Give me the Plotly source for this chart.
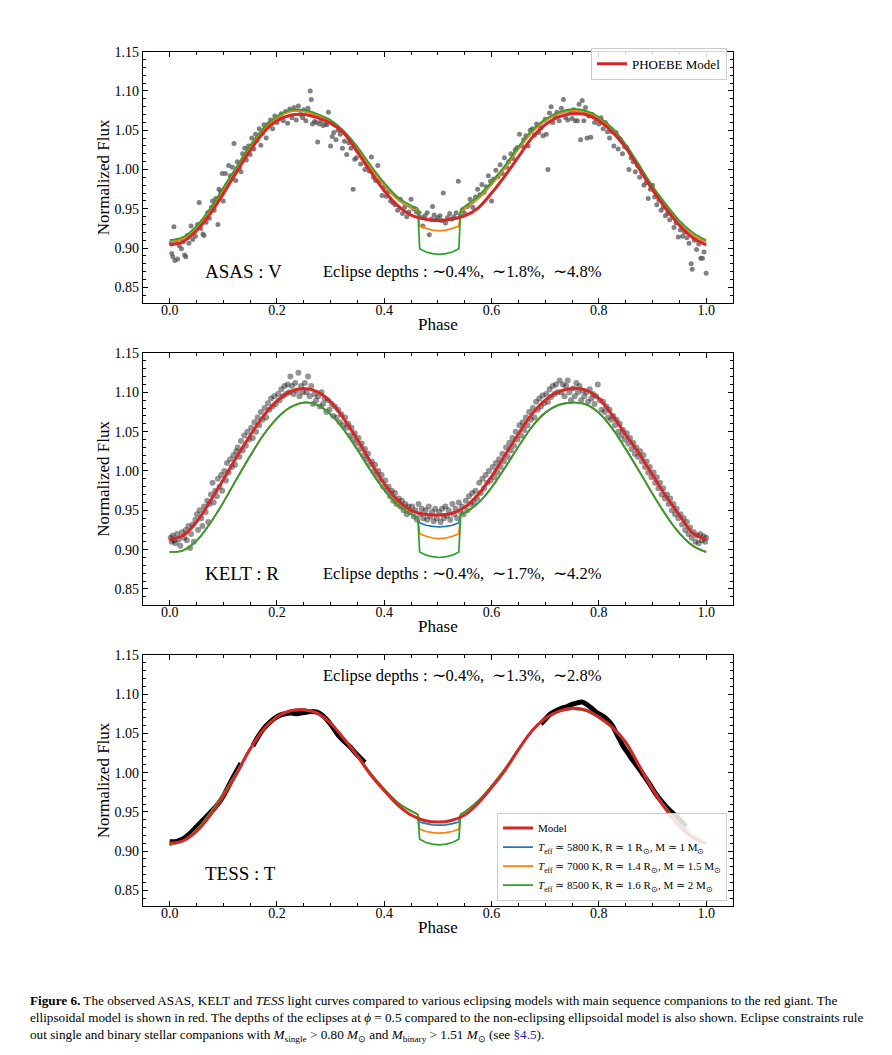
import plotly.graph_objects as go

FONT = "Liberation Serif"
RED, BLUE, ORANGE, GREEN = "#d62728", "#1f77b4", "#ff7f0e", "#2ca02c"

# ---------------- model grids ----------------
grid = [0.0, 0.025, 0.05, 0.075, 0.1, 0.125, 0.15, 0.175, 0.2, 0.225, 0.25, 0.275, 0.3, 0.325,
        0.35, 0.375, 0.4, 0.425, 0.45, 0.475, 0.5, 0.525, 0.55, 0.575, 0.6, 0.625, 0.65, 0.675,
        0.7, 0.725, 0.75, 0.775, 0.8, 0.825, 0.85, 0.875, 0.9, 0.925, 0.95, 0.975, 1.0]

base_phase = [0.0, 0.025, 0.05, 0.075, 0.1, 0.125, 0.15, 0.175, 0.2, 0.225, 0.25, 0.275, 0.3, 0.325,
              0.35, 0.375, 0.4, 0.425, 0.45, 0.4625, 0.5425, 0.55, 0.575, 0.6, 0.625, 0.65, 0.675,
              0.7, 0.725, 0.75, 0.775, 0.8, 0.825, 0.85, 0.875, 0.9, 0.925, 0.95, 0.975, 1.0]

ecl_phase = [0.4625, 0.466, 0.478, 0.49, 0.5025, 0.515, 0.527, 0.539, 0.5425]

# ASAS (V)
asas_red = [0.904, 0.908, 0.922, 0.943, 0.969, 0.997, 1.024, 1.047, 1.062, 1.069, 1.070, 1.066, 1.059,
            1.046, 1.022, 0.997, 0.973, 0.954, 0.942, 0.937, 0.935, 0.937, 0.941, 0.951, 0.970, 0.992,
            1.016, 1.040, 1.057, 1.067, 1.071, 1.070, 1.062, 1.048, 1.028, 1.001, 0.974, 0.950, 0.929,
            0.913, 0.904]
asas_base_green = [0.910, 0.914, 0.928, 0.950, 0.977, 1.004, 1.031, 1.053, 1.068, 1.076, 1.076, 1.071, 1.063,
                   1.049, 1.029, 1.005, 0.983, 0.965, 0.954, 0.951, 0.950, 0.953, 0.966, 0.984, 1.005, 1.029,
                   1.050, 1.064, 1.073, 1.077, 1.075, 1.067, 1.053, 1.032, 1.006, 0.979, 0.956, 0.935, 0.920,
                   0.910]
asas_base_other = [0.908, 0.912, 0.925, 0.947, 0.974, 1.001, 1.028, 1.051, 1.066, 1.074, 1.074, 1.069, 1.061,
                   1.047, 1.027, 1.002, 0.980, 0.962, 0.951, 0.948, 0.947, 0.950, 0.963, 0.981, 1.002, 1.026,
                   1.047, 1.062, 1.071, 1.075, 1.073, 1.065, 1.051, 1.030, 1.003, 0.977, 0.953, 0.932, 0.917,
                   0.908]
asas_ecl_blue = [0.948, 0.938, 0.936, 0.9345, 0.934, 0.9345, 0.936, 0.938, 0.947]
asas_ecl_orange = [0.948, 0.928, 0.925, 0.9228, 0.922, 0.9228, 0.925, 0.928, 0.947]
asas_ecl_green = [0.951, 0.899, 0.895, 0.893, 0.892, 0.893, 0.895, 0.899, 0.950]

# KELT (R)
kelt_red = [0.913, 0.918, 0.935, 0.961, 0.989, 1.018, 1.045, 1.070, 1.089, 1.101, 1.105, 1.101, 1.088,
            1.066, 1.040, 1.011, 0.984, 0.963, 0.950, 0.945, 0.944, 0.946, 0.954, 0.970, 0.993, 1.020,
            1.047, 1.072, 1.090, 1.101, 1.105, 1.103, 1.092, 1.071, 1.046, 1.022, 0.995, 0.968, 0.944,
            0.921, 0.913]
kelt_base = [0.897, 0.899, 0.911, 0.933, 0.960, 0.990, 1.019, 1.046, 1.067, 1.081, 1.087, 1.084, 1.072,
             1.052, 1.027, 1.000, 0.976, 0.957, 0.945, 0.941, 0.945, 0.947, 0.959, 0.979, 1.004, 1.031,
             1.056, 1.074, 1.084, 1.087, 1.085, 1.074, 1.054, 1.028, 1.000, 0.971, 0.944, 0.921, 0.905,
             0.897]
kelt_ecl_blue = [0.941, 0.934, 0.931, 0.9295, 0.929, 0.9295, 0.931, 0.934, 0.945]
kelt_ecl_orange = [0.941, 0.920, 0.917, 0.9148, 0.914, 0.9148, 0.917, 0.920, 0.945]
kelt_ecl_green = [0.941, 0.897, 0.893, 0.891, 0.890, 0.891, 0.893, 0.897, 0.945]

# TESS (T)
tess_red = [0.910, 0.913, 0.925, 0.945, 0.970, 0.999, 1.030, 1.055, 1.071, 1.079, 1.080, 1.076, 1.063,
            1.043, 1.021, 0.997, 0.977, 0.959, 0.946, 0.939, 0.937, 0.939, 0.946, 0.961, 0.981, 1.003,
            1.029, 1.053, 1.069, 1.078, 1.082, 1.080, 1.071, 1.058, 1.039, 1.009, 0.979, 0.953, 0.932,
            0.917, 0.910]
tess_base = [0.908, 0.913, 0.927, 0.948, 0.973, 1.001, 1.031, 1.055, 1.071, 1.079, 1.081, 1.076, 1.063,
             1.044, 1.022, 0.999, 0.979, 0.962, 0.951, 0.947, 0.947, 0.950, 0.964, 0.983, 1.005, 1.030,
             1.053, 1.069, 1.078, 1.081, 1.079, 1.070, 1.057, 1.038, 1.009, 0.980, 0.955, 0.935, 0.919,
             0.910]
tess_ecl_blue = [0.947, 0.937, 0.935, 0.9335, 0.933, 0.9335, 0.935, 0.937, 0.947]
tess_ecl_orange = [0.947, 0.928, 0.925, 0.9235, 0.923, 0.9235, 0.925, 0.928, 0.947]
tess_ecl_green = [0.947, 0.915, 0.911, 0.9088, 0.908, 0.9088, 0.911, 0.915, 0.947]

# ---------------- observations ----------------
asas_obs = [
    (0.003, 0.906), (0.004, 0.893), (0.006, 0.889), (0.008, 0.927), (0.010, 0.884), (0.012, 0.909),
    (0.015, 0.886), (0.018, 0.903), (0.022, 0.899), (0.025, 0.908), (0.028, 0.891), (0.030, 0.889),
    (0.033, 0.916), (0.036, 0.906), (0.040, 0.928), (0.043, 0.911), (0.046, 0.921), (0.048, 0.915),
    (0.052, 0.930), (0.055, 0.958), (0.058, 0.925), (0.062, 0.918), (0.064, 0.916), (0.068, 0.933),
    (0.071, 0.945), (0.074, 0.938), (0.078, 0.952), (0.080, 0.960), (0.083, 0.948), (0.086, 0.963),
    (0.090, 0.930), (0.092, 0.975), (0.095, 0.972), (0.098, 0.995), (0.100, 0.960),
    (0.104, 0.995), (0.107, 0.981), (0.110, 1.005), (0.113, 0.992), (0.117, 1.003), (0.120, 1.033),
    (0.123, 0.986), (0.126, 1.010), (0.130, 1.002), (0.133, 0.997), (0.136, 1.020), (0.140, 1.027),
    (0.143, 1.012), (0.147, 1.030), (0.150, 1.019),
    (0.153, 1.040), (0.157, 1.026), (0.160, 1.045), (0.163, 1.037), (0.167, 1.052), (0.170, 1.031),
    (0.173, 1.046), (0.176, 1.057), (0.180, 1.040), (0.184, 1.058), (0.188, 1.063), (0.192, 1.052),
    (0.196, 1.068), (0.200, 1.060),
    (0.204, 1.065), (0.208, 1.071), (0.212, 1.062), (0.216, 1.074), (0.220, 1.059), (0.224, 1.077),
    (0.228, 1.066), (0.232, 1.079), (0.236, 1.063), (0.240, 1.081), (0.244, 1.070), (0.248, 1.066),
    (0.250, 1.076),
    (0.254, 1.062), (0.258, 1.078), (0.262, 1.100), (0.264, 1.089), (0.266, 1.058), (0.270, 1.061),
    (0.273, 1.060), (0.276, 1.035), (0.279, 1.058), (0.282, 1.062), (0.286, 1.056), (0.290, 1.058),
    (0.293, 1.057), (0.296, 1.073), (0.300, 1.030),
    (0.303, 1.042), (0.306, 1.047), (0.310, 1.038), (0.314, 1.050), (0.318, 1.045), (0.322, 1.027),
    (0.326, 1.036), (0.330, 1.019), (0.334, 1.034), (0.338, 1.027), (0.342, 0.975), (0.345, 1.013),
    (0.348, 1.015),
    (0.352, 1.023), (0.356, 1.007), (0.360, 1.015), (0.364, 1.000), (0.368, 1.005), (0.372, 0.998),
    (0.376, 1.016), (0.380, 0.990), (0.384, 0.986), (0.388, 1.005), (0.392, 0.985), (0.396, 0.967),
    (0.400, 0.978),
    (0.404, 0.966), (0.408, 0.972), (0.412, 0.960), (0.416, 0.958), (0.420, 0.955), (0.425, 0.948),
    (0.430, 0.962), (0.434, 0.944), (0.438, 0.952), (0.442, 0.940), (0.446, 0.946), (0.450, 0.962),
    (0.455, 0.950), (0.460, 0.946), (0.465, 0.945), (0.470, 0.939), (0.472, 0.928), (0.476, 0.941),
    (0.480, 0.945), (0.484, 0.917), (0.488, 0.937), (0.490, 0.953), (0.493, 0.942), (0.496, 0.936),
    (0.500, 0.939),
    (0.504, 0.941), (0.507, 0.935), (0.510, 0.970), (0.514, 0.932), (0.518, 0.939), (0.522, 0.944),
    (0.526, 0.937), (0.530, 0.940), (0.534, 0.945), (0.538, 0.985), (0.542, 0.941), (0.546, 0.948),
    (0.550, 0.944), (0.555, 0.953), (0.560, 0.962), (0.565, 0.952), (0.570, 0.965), (0.574, 0.975),
    (0.578, 0.968), (0.582, 0.981), (0.586, 0.971), (0.590, 0.978), (0.594, 0.992), (0.598, 0.985),
    (0.600, 0.960),
    (0.604, 0.988), (0.608, 0.999), (0.612, 0.991), (0.616, 1.006), (0.620, 0.995), (0.624, 1.015),
    (0.628, 1.003), (0.632, 1.010), (0.636, 1.020), (0.640, 1.014), (0.644, 1.025), (0.648, 1.028),
    (0.652, 1.045), (0.656, 1.030), (0.660, 1.038), (0.664, 1.043), (0.668, 1.030), (0.672, 1.050),
    (0.676, 1.052), (0.680, 1.044), (0.684, 1.058), (0.688, 1.047), (0.692, 1.053), (0.696, 1.043),
    (0.700, 1.064), (0.702, 1.045),
    (0.705, 1.000), (0.708, 1.072), (0.711, 1.080), (0.714, 1.060), (0.718, 1.068), (0.722, 1.073),
    (0.726, 1.062), (0.730, 1.078), (0.734, 1.089), (0.738, 1.066), (0.742, 1.063), (0.746, 1.073),
    (0.750, 1.065),
    (0.753, 1.076), (0.756, 1.062), (0.760, 1.062), (0.763, 1.083), (0.766, 1.038), (0.769, 1.088),
    (0.772, 1.062), (0.775, 1.079), (0.778, 1.040), (0.781, 1.068), (0.785, 1.041), (0.788, 1.070),
    (0.792, 1.060), (0.796, 1.065), (0.800, 1.058),
    (0.804, 1.066), (0.808, 1.052), (0.812, 1.060), (0.816, 1.048), (0.820, 1.040), (0.824, 1.048),
    (0.828, 1.030), (0.832, 1.047), (0.836, 1.026), (0.840, 1.039), (0.844, 1.020), (0.848, 1.029),
    (0.852, 1.028), (0.856, 1.000), (0.860, 1.015), (0.864, 1.010), (0.868, 0.997), (0.872, 1.005),
    (0.876, 0.990), (0.880, 0.996), (0.884, 0.980), (0.888, 0.983), (0.892, 0.963), (0.896, 0.975),
    (0.900, 0.980),
    (0.904, 0.965), (0.908, 0.955), (0.912, 0.961), (0.916, 0.948), (0.920, 0.952), (0.924, 0.941),
    (0.928, 0.944), (0.932, 0.936), (0.936, 0.943), (0.940, 0.926), (0.944, 0.932), (0.948, 0.914),
    (0.952, 0.923), (0.956, 0.915), (0.960, 0.920), (0.964, 0.913), (0.968, 0.906), (0.972, 0.880),
    (0.974, 0.873), (0.978, 0.910), (0.982, 0.898), (0.986, 0.905), (0.990, 0.887), (0.993, 0.887),
    (0.996, 0.895), (1.000, 0.868),
]

kelt_obs = [
    (0.002, 0.915), (0.004, 0.910), (0.006, 0.918), (0.008, 0.912), (0.011, 0.908), (0.014, 0.920),
    (0.017, 0.913), (0.020, 0.905), (0.023, 0.922),
    (0.027, 0.915), (0.030, 0.925), (0.032, 0.912), (0.035, 0.930), (0.038, 0.902), (0.040, 0.920),
    (0.043, 0.932), (0.045, 0.910), (0.048, 0.938),
    (0.051, 0.945), (0.053, 0.925), (0.056, 0.950), (0.059, 0.940), (0.061, 0.930), (0.064, 0.955),
    (0.067, 0.948), (0.070, 0.962), (0.072, 0.935), (0.074, 0.958),
    (0.077, 0.970), (0.080, 0.985), (0.082, 0.960), (0.085, 0.975), (0.088, 0.968), (0.090, 0.990),
    (0.093, 0.980), (0.096, 0.995), (0.098, 0.975),
    (0.102, 1.000), (0.105, 0.988), (0.107, 1.010), (0.110, 0.998), (0.113, 1.015), (0.116, 1.005),
    (0.119, 1.020), (0.122, 1.008), (0.124, 1.025),
    (0.127, 1.030), (0.130, 1.018), (0.133, 1.038), (0.136, 1.026), (0.139, 1.045), (0.142, 1.032),
    (0.145, 1.050), (0.148, 1.040),
    (0.152, 1.055), (0.155, 1.042), (0.158, 1.062), (0.161, 1.050), (0.164, 1.068), (0.167, 1.058),
    (0.170, 1.075), (0.173, 1.065),
    (0.177, 1.080), (0.180, 1.068), (0.183, 1.086), (0.186, 1.078), (0.189, 1.092), (0.192, 1.082),
    (0.195, 1.095), (0.198, 1.085),
    (0.202, 1.098), (0.205, 1.090), (0.208, 1.104), (0.211, 1.095), (0.214, 1.108), (0.217, 1.098),
    (0.220, 1.110), (0.223, 1.100), (0.225, 1.120),
    (0.228, 1.108), (0.231, 1.098), (0.234, 1.112), (0.237, 1.102), (0.240, 1.125), (0.242, 1.095),
    (0.245, 1.108), (0.248, 1.100),
    (0.252, 1.112), (0.255, 1.100), (0.258, 1.120), (0.261, 1.095), (0.264, 1.108), (0.267, 1.085),
    (0.270, 1.098), (0.273, 1.090),
    (0.277, 1.095), (0.280, 1.082), (0.283, 1.100), (0.286, 1.085), (0.289, 1.092), (0.292, 1.075),
    (0.295, 1.090), (0.298, 1.078),
    (0.302, 1.085), (0.305, 1.070), (0.308, 1.082), (0.311, 1.068), (0.314, 1.078), (0.317, 1.062),
    (0.320, 1.072), (0.323, 1.058),
    (0.327, 1.068), (0.330, 1.055), (0.333, 1.060), (0.336, 1.045), (0.339, 1.055), (0.342, 1.040),
    (0.345, 1.048), (0.348, 1.035),
    (0.352, 1.042), (0.355, 1.028), (0.358, 1.035), (0.361, 1.020), (0.364, 1.028), (0.367, 1.015),
    (0.370, 1.022), (0.373, 1.008),
    (0.377, 1.012), (0.380, 1.000), (0.383, 1.008), (0.386, 0.995), (0.389, 1.000), (0.392, 0.988),
    (0.395, 0.995), (0.398, 0.980),
    (0.402, 0.988), (0.405, 0.975), (0.408, 0.980), (0.411, 0.968), (0.414, 0.975), (0.417, 0.962),
    (0.420, 0.972), (0.423, 0.958),
    (0.427, 0.965), (0.430, 0.955), (0.433, 0.962), (0.436, 0.950), (0.439, 0.958), (0.442, 0.945),
    (0.445, 0.955), (0.448, 0.948),
    (0.452, 0.955), (0.455, 0.942), (0.458, 0.950), (0.461, 0.938), (0.464, 0.958), (0.467, 0.945),
    (0.470, 0.952), (0.473, 0.940),
    (0.477, 0.950), (0.480, 0.938), (0.483, 0.955), (0.486, 0.942), (0.489, 0.948), (0.492, 0.936),
    (0.495, 0.952), (0.498, 0.940),
    (0.502, 0.948), (0.505, 0.935), (0.508, 0.952), (0.511, 0.940), (0.514, 0.955), (0.517, 0.943),
    (0.520, 0.950), (0.523, 0.938),
    (0.527, 0.958), (0.530, 0.945), (0.533, 0.952), (0.536, 0.940), (0.539, 0.960), (0.542, 0.948),
    (0.545, 0.955), (0.548, 0.945),
    (0.552, 0.962), (0.555, 0.950), (0.558, 0.968), (0.561, 0.958), (0.564, 0.972), (0.567, 0.960),
    (0.570, 0.975), (0.573, 0.965),
    (0.577, 0.985), (0.580, 0.972), (0.583, 0.990), (0.586, 0.978), (0.589, 0.995), (0.592, 0.985),
    (0.595, 1.000), (0.598, 0.988),
    (0.602, 1.005), (0.605, 0.992), (0.608, 1.010), (0.611, 0.998), (0.614, 1.015), (0.617, 1.005),
    (0.620, 1.022), (0.623, 1.012),
    (0.627, 1.030), (0.630, 1.018), (0.633, 1.036), (0.636, 1.026), (0.639, 1.042), (0.642, 1.032),
    (0.645, 1.050), (0.648, 1.040),
    (0.652, 1.058), (0.655, 1.045), (0.658, 1.062), (0.661, 1.052), (0.664, 1.068), (0.667, 1.058),
    (0.670, 1.075), (0.673, 1.065),
    (0.677, 1.080), (0.680, 1.068), (0.683, 1.088), (0.686, 1.078), (0.689, 1.092), (0.692, 1.082),
    (0.695, 1.096), (0.698, 1.086),
    (0.702, 1.098), (0.705, 1.088), (0.708, 1.104), (0.711, 1.094), (0.714, 1.108), (0.717, 1.098),
    (0.720, 1.110), (0.723, 1.100),
    (0.727, 1.115), (0.730, 1.100), (0.733, 1.110), (0.736, 1.095), (0.739, 1.108), (0.742, 1.115),
    (0.745, 1.100), (0.748, 1.090),
    (0.752, 1.105), (0.755, 1.095), (0.758, 1.112), (0.761, 1.100), (0.764, 1.108), (0.767, 1.090),
    (0.770, 1.102), (0.773, 1.095),
    (0.777, 1.100), (0.780, 1.088), (0.783, 1.104), (0.786, 1.092), (0.789, 1.098), (0.792, 1.085),
    (0.795, 1.095), (0.798, 1.110),
    (0.802, 1.090), (0.805, 1.078), (0.808, 1.088), (0.811, 1.075), (0.814, 1.082), (0.817, 1.068),
    (0.820, 1.078), (0.823, 1.065),
    (0.827, 1.070), (0.830, 1.058), (0.833, 1.065), (0.836, 1.050), (0.839, 1.060), (0.842, 1.045),
    (0.845, 1.052), (0.848, 1.040),
    (0.852, 1.048), (0.855, 1.035), (0.858, 1.042), (0.861, 1.028), (0.864, 1.036), (0.867, 1.022),
    (0.870, 1.030), (0.873, 1.018),
    (0.877, 1.025), (0.880, 1.012), (0.883, 1.020), (0.886, 1.005), (0.889, 1.012), (0.892, 0.998),
    (0.895, 1.005), (0.898, 0.992),
    (0.902, 0.998), (0.905, 0.985), (0.908, 0.992), (0.911, 0.978), (0.914, 0.985), (0.917, 0.970),
    (0.920, 0.978), (0.923, 0.965),
    (0.927, 0.970), (0.930, 0.958), (0.933, 0.965), (0.936, 0.950), (0.939, 0.958), (0.942, 0.945),
    (0.945, 0.952), (0.948, 0.940),
    (0.952, 0.945), (0.955, 0.932), (0.958, 0.940), (0.961, 0.925), (0.964, 0.935), (0.967, 0.920),
    (0.970, 0.928), (0.973, 0.915),
    (0.977, 0.922), (0.980, 0.910), (0.983, 0.918), (0.986, 0.908), (0.989, 0.920), (0.992, 0.912),
    (0.995, 0.917), (0.998, 0.910), (1.000, 0.915),
]

tess_seg1 = [(0.0, 0.912), (0.01, 0.912), (0.02, 0.914), (0.03, 0.918), (0.04, 0.924), (0.05, 0.931),
             (0.06, 0.938), (0.07, 0.945), (0.08, 0.952), (0.09, 0.960), (0.1, 0.970), (0.11, 0.983),
             (0.12, 0.996), (0.133, 1.012)]
tess_seg2 = [(0.155, 1.034), (0.165, 1.046), (0.175, 1.056), (0.185, 1.063), (0.195, 1.069),
             (0.205, 1.073), (0.215, 1.075), (0.225, 1.076), (0.235, 1.075), (0.245, 1.076),
             (0.255, 1.077), (0.265, 1.078), (0.275, 1.077), (0.285, 1.073), (0.295, 1.066),
             (0.305, 1.057), (0.315, 1.047), (0.325, 1.040), (0.335, 1.034), (0.345, 1.026),
             (0.355, 1.019), (0.364, 1.013)]
tess_seg3 = [(0.692, 1.062), (0.70, 1.068), (0.71, 1.075), (0.72, 1.079), (0.73, 1.082), (0.74, 1.084),
             (0.75, 1.087), (0.76, 1.089), (0.768, 1.090), (0.775, 1.088), (0.785, 1.083), (0.795, 1.077),
             (0.805, 1.073), (0.815, 1.068), (0.825, 1.060), (0.835, 1.047), (0.845, 1.034),
             (0.855, 1.024), (0.865, 1.014), (0.875, 1.005), (0.885, 0.995), (0.895, 0.985),
             (0.905, 0.974), (0.915, 0.965), (0.925, 0.957), (0.935, 0.950), (0.945, 0.944),
             (0.955, 0.937), (0.962, 0.931)]
tess_faint = [(0.962, 0.931), (0.97, 0.924), (0.98, 0.918), (0.99, 0.914), (1.0, 0.912)]

panel_labels = ["ASAS : V", "KELT : R", "TESS : T"]
depth_texts = ["Eclipse depths : \u223c0.4%,  \u223c1.8%,  \u223c4.8%",
               "Eclipse depths : \u223c0.4%,  \u223c1.7%,  \u223c4.2%",
               "Eclipse depths : \u223c0.4%,  \u223c1.3%,  \u223c2.8%"]
legend_names = ["Model",
                "<i>T</i><sub>eff</sub> \u2243 5800 K, R \u2243 1 R<sub>\u2299</sub>, M \u2243 1 M<sub>\u2299</sub>",
                "<i>T</i><sub>eff</sub> \u2243 7000 K, R \u2243 1.4 R<sub>\u2299</sub>, M \u2243 1.5 M<sub>\u2299</sub>",
                "<i>T</i><sub>eff</sub> \u2243 8500 K, R \u2243 1.6 R<sub>\u2299</sub>, M \u2243 2 M<sub>\u2299</sub>"]

# ---------------- figure ----------------
W, H = 892, 1055
fig = go.Figure()

X_DOM = [142.8 / W, 733.0 / W]
panel_px = [(45.0, 298.0), (348.3, 601.7), (652.3, 905.0)]
Y_DOMS = [[1 - b / H, 1 - t / H] for (t, b) in panel_px]


def split_base(vals):
    px, py = [], []
    for p, v in zip(base_phase, vals):
        px.append(p)
        py.append(v)
        if p == 0.4625:
            px.append(None)
            py.append(None)
    return px, py


panels = [
    dict(red=asas_red, bases=[asas_base_other, asas_base_other, asas_base_green],
         ecl=[asas_ecl_blue, asas_ecl_orange, asas_ecl_green]),
    dict(red=kelt_red, bases=[kelt_base, kelt_base, kelt_base],
         ecl=[kelt_ecl_blue, kelt_ecl_orange, kelt_ecl_green]),
    dict(red=tess_red, bases=[tess_base, tess_base, tess_base],
         ecl=[tess_ecl_blue, tess_ecl_orange, tess_ecl_green]),
]

for i, pan in enumerate(panels):
    xa = "x" if i == 0 else f"x{i+1}"
    ya = "y" if i == 0 else f"y{i+1}"
    if i == 0:
        fig.add_trace(go.Scatter(x=[p for p, _ in asas_obs], y=[f for _, f in asas_obs], mode="markers",
                                 marker=dict(color="#555555", size=5, opacity=0.75, line=dict(width=0)),
                                 xaxis=xa, yaxis=ya, showlegend=False, hoverinfo="skip"))
    elif i == 1:
        fig.add_trace(go.Scatter(x=[p for p, _ in kelt_obs], y=[f for _, f in kelt_obs], mode="markers",
                                 marker=dict(color="#000000", size=6, opacity=0.42, line=dict(width=0)),
                                 xaxis=xa, yaxis=ya, showlegend=False, hoverinfo="skip"))
    else:
        for seg in (tess_seg1, tess_seg2, tess_seg3):
            fig.add_trace(go.Scatter(x=[p for p, _ in seg], y=[f for _, f in seg], mode="lines",
                                     line=dict(color="black", width=5, shape="spline"),
                                     xaxis=xa, yaxis=ya, showlegend=False, hoverinfo="skip"))
        fig.add_trace(go.Scatter(x=[p for p, _ in tess_faint], y=[f for _, f in tess_faint], mode="lines",
                                 line=dict(color="#d0d0d0", width=5, shape="spline"),
                                 xaxis=xa, yaxis=ya, showlegend=False, hoverinfo="skip"))
    for k, (col, bv, ev) in enumerate(zip([BLUE, ORANGE, GREEN], pan["bases"], pan["ecl"])):
        bx, by = split_base(bv)
        show = (i == 2)
        fig.add_trace(go.Scatter(x=bx, y=by, mode="lines", line=dict(color=col, width=1.7, shape="spline"),
                                 xaxis=xa, yaxis=ya, connectgaps=False, showlegend=show,
                                 name=legend_names[k + 1], legend="legend2", legendrank=k + 2,
                                 hoverinfo="skip"))
        fig.add_trace(go.Scatter(x=ecl_phase, y=ev, mode="lines", line=dict(color=col, width=1.7),
                                 xaxis=xa, yaxis=ya, showlegend=False, hoverinfo="skip"))
    if i == 0:
        fig.add_trace(go.Scatter(x=grid, y=pan["red"], mode="lines",
                                 line=dict(color=RED, width=3, shape="spline"),
                                 xaxis=xa, yaxis=ya, name="PHOEBE Model", legend="legend", hoverinfo="skip"))
    elif i == 1:
        fig.add_trace(go.Scatter(x=grid, y=pan["red"], mode="lines",
                                 line=dict(color=RED, width=3, shape="spline"),
                                 xaxis=xa, yaxis=ya, showlegend=False, hoverinfo="skip"))
    else:
        fig.add_trace(go.Scatter(x=grid, y=pan["red"], mode="lines",
                                 line=dict(color=RED, width=3, shape="spline"),
                                 xaxis=xa, yaxis=ya, name=legend_names[0], legend="legend2",
                                 legendrank=1, hoverinfo="skip"))

axis_common = dict(showline=True, linecolor="black", linewidth=1, mirror="allticks", ticks="inside",
                   ticklen=5, tickwidth=1, tickcolor="black", showgrid=False, zeroline=False,
                   tickfont=dict(family=FONT, size=14, color="black"))

layout = dict(width=W, height=H, margin=dict(l=0, r=0, t=0, b=0), paper_bgcolor="white",
              plot_bgcolor="white", font=dict(family=FONT, color="black"))

for i in range(3):
    xk = "xaxis" if i == 0 else f"xaxis{i+1}"
    yk = "yaxis" if i == 0 else f"yaxis{i+1}"
    ya = "y" if i == 0 else f"y{i+1}"
    xa = "x" if i == 0 else f"x{i+1}"
    layout[xk] = dict(axis_common, domain=X_DOM, anchor=ya, range=[-0.05, 1.05], dtick=0.2, tick0=0,
                      tickformat=".1f", ticklabelstandoff=-6,
                      minor=dict(dtick=0.05, tick0=0, ticklen=3, ticks="inside", tickcolor="black"),
                      title=dict(text="Phase", font=dict(family=FONT, size=17, color="black"), standoff=1))
    layout[yk] = dict(axis_common, domain=Y_DOMS[i], anchor=xa, range=[0.83, 1.15], dtick=0.05, tick0=0.85,
                      tickformat=".2f",
                      minor=dict(dtick=0.01, tick0=0.85, ticklen=3, ticks="inside", tickcolor="black"),
                      title=dict(text="Normalized Flux", font=dict(family=FONT, size=17, color="black"),
                                 standoff=0))

layout["legend"] = dict(x=727 / W, xanchor="right", y=1 - 41 / H, yanchor="top",
                        bgcolor="rgba(255,255,255,0.85)", bordercolor="#cccccc", borderwidth=1,
                        font=dict(family=FONT, size=13, color="black"))
layout["legend2"] = dict(x=727 / W, xanchor="right", y=1 - 811 / H, yanchor="top",
                         bgcolor="rgba(255,255,255,0.85)", bordercolor="#cccccc", borderwidth=1,
                         font=dict(family=FONT, size=11, color="black"), tracegroupgap=0)

annotations = []
label_y = [0.870, 0.870, 0.871]
depth_pos = [(0.2825, 0.870), (0.2825, 0.870), (0.2825, 1.124)]
for i in range(3):
    xa = "x" if i == 0 else f"x{i+1}"
    ya = "y" if i == 0 else f"y{i+1}"
    annotations.append(dict(x=0.063, y=label_y[i], xref=xa, yref=ya, text=panel_labels[i], showarrow=False,
                            xanchor="left", yanchor="middle", font=dict(family=FONT, size=19, color="black")))
    annotations.append(dict(x=depth_pos[i][0], y=depth_pos[i][1], xref=xa, yref=ya, text=depth_texts[i],
                            showarrow=False, xanchor="left", yanchor="middle",
                            font=dict(family=FONT, size=16.5, color="black")))

caption = [
    "<b>Figure 6.</b> The observed ASAS, KELT and <i>TESS</i> light curves compared to various eclipsing models "
    "with main sequence companions to the red giant. The",
    "ellipsoidal model is shown in red. The depths of the eclipses at <i>\u03d5</i> = 0.5 compared to the "
    "non-eclipsing ellipsoidal model is also shown. Eclipse constraints rule",
    "out single and binary stellar companions with <i>M</i><sub>single</sub> &gt; 0.80 <i>M</i><sub>\u2299</sub> "
    "and <i>M</i><sub>binary</sub> &gt; 1.51 <i>M</i><sub>\u2299</sub> (see "
    "<span style='color:#2020c0'>\u00a74.5</span>).",
]
cap_y = [1000, 1017, 1035]
for t, yy in zip(caption, cap_y):
    annotations.append(dict(x=28 / W, y=1 - yy / H, xref="paper", yref="paper", text=t, showarrow=False,
                            xanchor="left", yanchor="middle", align="left",
                            font=dict(family=FONT, size=13.2, color="black")))

layout["annotations"] = annotations
fig.update_layout(**layout)
fig.write_html("out.html")
